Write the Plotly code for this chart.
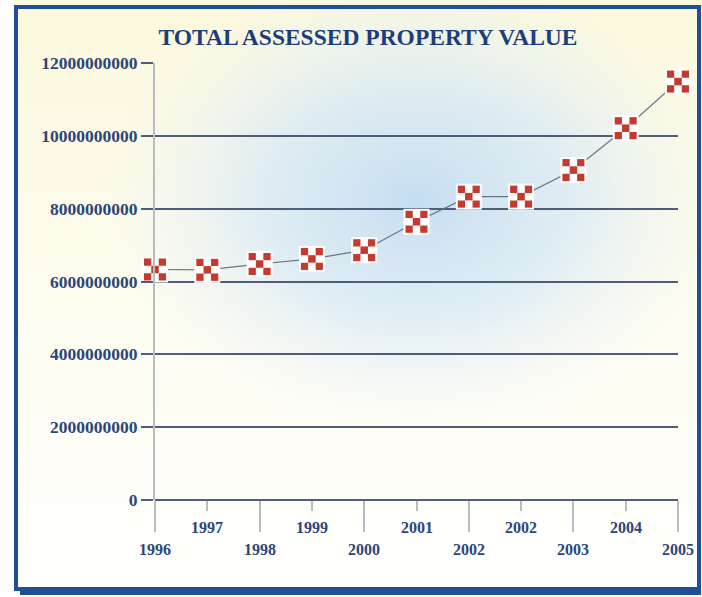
import base64
import plotly.graph_objects as go

# Assessed property value by year (dollars)
years = ["1996", "1997", "1998", "1999", "2000", "2001",
         "2002", "2002", "2003", "2004", "2005"]
values = [6.33e9, 6.32e9, 6.48e9, 6.62e9, 6.86e9, 7.64e9,
          8.33e9, 8.33e9, 9.06e9, 10.21e9, 11.49e9]
y_ticks = [0, 2e9, 4e9, 6e9, 8e9, 10e9, 12e9]

W, H = 702, 597
L, R, T, B = 155, 24, 63, 97          # plot margins in px
PW, PH = W - L - R, H - T - B

def px_x(p):   # figure pixel -> paper x
    return (p - L) / PW

def px_y(p):   # figure pixel -> paper y
    return (H - B - p) / PH

TXT = "#2c4677"
GRID = "#4f5d78"
AXIS = "#b9bcc4"
FRAME = "#1f4f97"
RED = "#c43a2e"
SERIF = "Liberation Serif, Times New Roman, serif"

# soft cream panel with a pale blue glow
svg = f"""<svg xmlns='http://www.w3.org/2000/svg' width='{W}' height='{H}' viewBox='0 0 {W} {H}'>
<defs>
<linearGradient id='g' x1='0' y1='0' x2='0' y2='1'>
<stop offset='0' stop-color='#fbf8dc'/><stop offset='0.5' stop-color='#fdfcef'/><stop offset='1' stop-color='#ffffff'/>
</linearGradient>
<radialGradient id='b' cx='0.5' cy='0.5' r='0.5'>
<stop offset='0' stop-color='#c6def2' stop-opacity='1'/>
<stop offset='0.5' stop-color='#d6e8f5' stop-opacity='0.75'/>
<stop offset='1' stop-color='#e9f2f9' stop-opacity='0'/>
</radialGradient>
</defs>
<rect x='0' y='0' width='{W}' height='{H}' fill='url(#g)'/>
<ellipse cx='415' cy='200' rx='310' ry='230' fill='url(#b)'/>
</svg>"""
bg_src = "data:image/svg+xml;base64," + base64.b64encode(svg.encode()).decode()

xs = list(range(len(years)))

fig = go.Figure()
# connecting line
fig.add_trace(go.Scatter(
    x=xs, y=values, mode="lines",
    line=dict(color="#66758a", width=1.2),
    cliponaxis=False, hoverinfo="skip", showlegend=False))
# checkered markers: white backing, red tile, white cross, red centre
fig.add_trace(go.Scatter(
    x=xs, y=values, mode="markers",
    marker=dict(symbol="square", size=26, color="white", line=dict(width=0)),
    cliponaxis=False, hoverinfo="skip", showlegend=False))
fig.add_trace(go.Scatter(
    x=xs, y=values, mode="markers",
    marker=dict(symbol="square", size=22, color=RED, line=dict(width=0)),
    cliponaxis=False, hoverinfo="skip", showlegend=False))
fig.add_trace(go.Scatter(
    x=xs, y=values, mode="markers",
    marker=dict(symbol="cross-thin", size=18, color="white",
                line=dict(color="white", width=7.5)),
    cliponaxis=False, hoverinfo="skip", showlegend=False))
fig.add_trace(go.Scatter(
    x=xs, y=values, mode="markers",
    marker=dict(symbol="square", size=7.5, color=RED, line=dict(width=0)),
    cliponaxis=False, showlegend=False))

# staggered year labels under the axis
annotations = []
for i, lab in enumerate(years):
    annotations.append(dict(
        x=i, y=0, xref="x", yref="y", text=lab, showarrow=False,
        yshift=-27 if i % 2 else -49,
        font=dict(family=SERIF, size=16, color=TXT, weight="bold")))

fig.update_layout(
    width=W, height=H,
    margin=dict(l=L, r=R, t=T, b=B, pad=0),
    paper_bgcolor="white", plot_bgcolor="rgba(0,0,0,0)",
    title=dict(text="TOTAL ASSESSED PROPERTY VALUE",
               x=368 / W, xanchor="center", y=1 - 37 / H, yanchor="middle",
               xref="container", yref="container",
               font=dict(family=SERIF, size=23.5, color="#1e3e7b", weight="bold")),
    xaxis=dict(range=[0, 10], showgrid=False, zeroline=False, showline=False,
               tickmode="linear", tick0=0, dtick=2, ticks="outside",
               ticklen=31, tickwidth=2, tickcolor=AXIS, showticklabels=False,
               minor=dict(tickmode="linear", tick0=0, dtick=1, ticks="outside",
                          ticklen=10, tickwidth=2, tickcolor=AXIS)),
    yaxis=dict(range=[0, 12e9], tickvals=y_ticks, tickformat="d",
               showgrid=True, gridcolor=GRID, gridwidth=1.5,
               zeroline=True, zerolinecolor=GRID, zerolinewidth=1.5,
               showline=True, linecolor=AXIS, linewidth=2,
               ticks="outside", ticklen=12, tickwidth=1.5, tickcolor=GRID,
               tickfont=dict(family=SERIF, size=17.5, color=TXT, weight="bold")),
    annotations=annotations,
    images=[dict(source=bg_src, xref="paper", yref="paper",
                 x=px_x(0), y=px_y(0), sizex=W / PW, sizey=H / PH,
                 xanchor="left", yanchor="top", sizing="stretch",
                 layer="below")],
    shapes=[
        # white margin outside the frame
        dict(type="rect", xref="paper", yref="paper", layer="below",
             x0=px_x(0), x1=px_x(W), y0=px_y(591), y1=px_y(H),
             fillcolor="white", line=dict(width=0)),
        dict(type="rect", xref="paper", yref="paper", layer="below",
             x0=px_x(0), x1=px_x(14), y0=px_y(0), y1=px_y(H),
             fillcolor="white", line=dict(width=0)),
        # blue frame
        dict(type="rect", xref="paper", yref="paper", layer="above",
             x0=px_x(16), x1=px_x(699), y0=px_y(7), y1=px_y(589),
             line=dict(color=FRAME, width=4)),
        dict(type="rect", xref="paper", yref="paper", layer="above",
             x0=px_x(20), x1=px_x(701), y0=px_y(587), y1=px_y(595),
             fillcolor=FRAME, line=dict(width=0)),
    ],
)

fig.write_html("out.html")
